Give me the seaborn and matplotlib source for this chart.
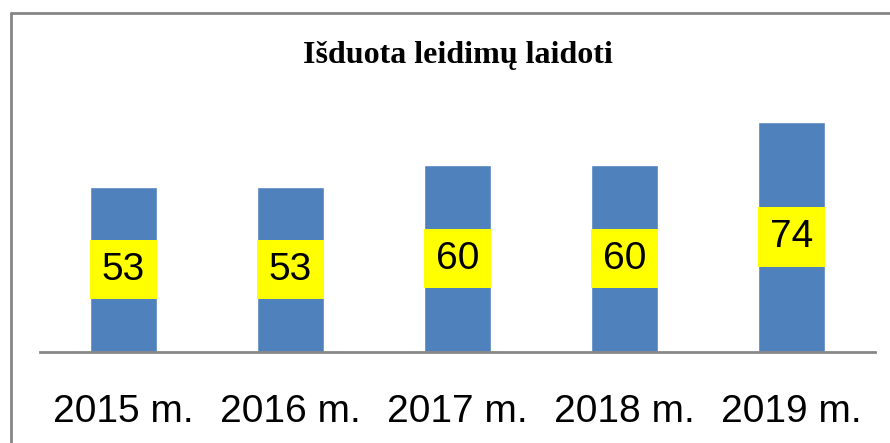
import seaborn as sns
import pandas as pd
import matplotlib.pyplot as plt
from matplotlib.lines import Line2D

years = ["2015 m.", "2016 m.", "2017 m.", "2018 m.", "2019 m."]
permits = [53, 53, 60, 60, 74]

df = pd.DataFrame({"year": years, "permits": permits})

sns.set_style("white")
plt.rcParams["font.family"] = ["Liberation Sans", "DejaVu Sans"]
plt.rcParams["text.color"] = "black"
plt.rcParams["xtick.color"] = "black"

fig = plt.figure(figsize=(8.9, 4.43), dpi=100)
ax = fig.add_axes([40 / 890, (443 - 352) / 443, 835 / 890, 250 / 443])

sns.barplot(data=df, x="year", y="permits", color="#4F81BD", saturation=1,
            width=0.4, ax=ax)

# value labels in yellow boxes, centred in each bar
for i, v in enumerate(permits):
    ax.text(i, v / 2, str(v), ha="center", va="center", fontsize=28,
            color="black",
            bbox=dict(boxstyle="square,pad=0.3", fc="#FFFF00", ec="none"))

ax.set_xlim(-0.5, 4.5)
ax.set_ylim(0, 250 / 3.11)
ax.set_xlabel("")
ax.set_ylabel("")
ax.set_yticks([])
ax.tick_params(axis="x", length=0, labelsize=28, pad=30, labelcolor="black")
for s in ["top", "right", "left"]:
    ax.spines[s].set_visible(False)
ax.spines["bottom"].set_color("#888888")
ax.spines["bottom"].set_linewidth(2)

fig.text(458 / 890, 1 - 55 / 443, "Išduota leidimų laidoti", ha="center",
         va="center", fontsize=23, fontweight="bold", color="black",
         family=["Liberation Serif", "DejaVu Serif"])

# chart frame (left and top edges visible)
fig.add_artist(Line2D([11 / 890, 11 / 890], [0, 1 - 13 / 443],
                      transform=fig.transFigure, color="#868686", lw=2))
fig.add_artist(Line2D([11 / 890, 1], [1 - 13 / 443, 1 - 13 / 443],
                      transform=fig.transFigure, color="#868686", lw=2))

fig.savefig("out.png", dpi=100)
